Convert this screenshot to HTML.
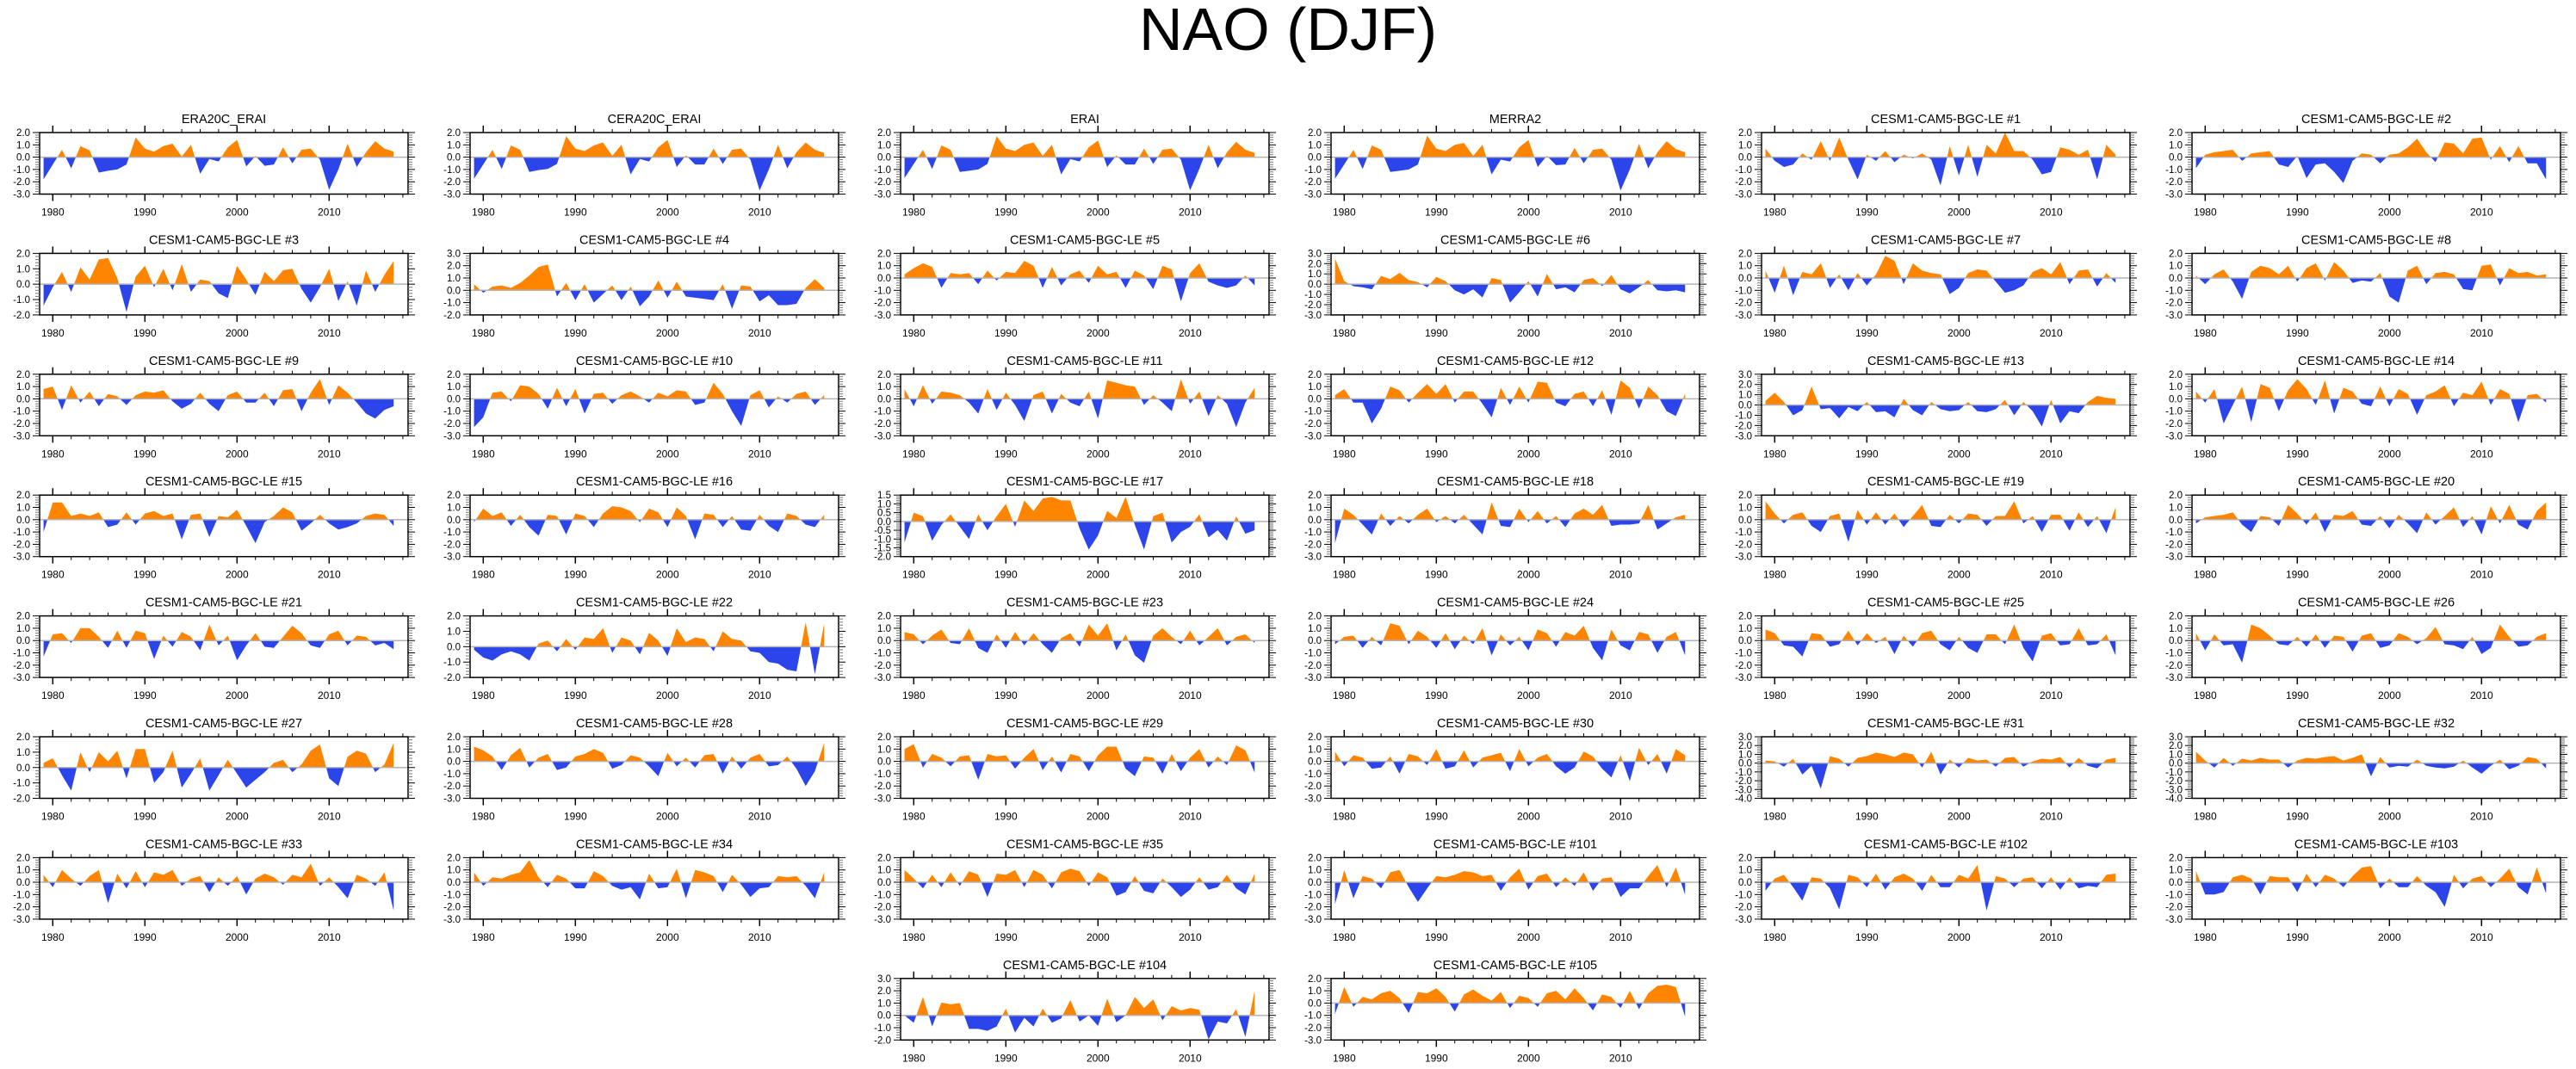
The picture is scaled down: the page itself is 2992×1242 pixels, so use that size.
<!DOCTYPE html>
<html><head><meta charset="utf-8"><title>NAO (DJF)</title>
<style>
html,body{margin:0;padding:0;background:#fff;}
svg{display:block;font-family:"Liberation Sans",sans-serif;}
</style></head>
<body>
<svg id="chart" width="2992" height="1242" viewBox="0 0 2992 1242" xmlns="http://www.w3.org/2000/svg">
<rect width="2992" height="1242" fill="#fff"/>
<text x="1496" y="58" text-anchor="middle" font-size="70" fill="#000">NAO (DJF)</text>
</svg>
<script>
const startYear = 1979;
const panelTitles = ["ERA20C_ERAI","CERA20C_ERAI","ERAI","MERRA2","CESM1-CAM5-BGC-LE #1","CESM1-CAM5-BGC-LE #2","CESM1-CAM5-BGC-LE #3","CESM1-CAM5-BGC-LE #4","CESM1-CAM5-BGC-LE #5","CESM1-CAM5-BGC-LE #6","CESM1-CAM5-BGC-LE #7","CESM1-CAM5-BGC-LE #8","CESM1-CAM5-BGC-LE #9","CESM1-CAM5-BGC-LE #10","CESM1-CAM5-BGC-LE #11","CESM1-CAM5-BGC-LE #12","CESM1-CAM5-BGC-LE #13","CESM1-CAM5-BGC-LE #14","CESM1-CAM5-BGC-LE #15","CESM1-CAM5-BGC-LE #16","CESM1-CAM5-BGC-LE #17","CESM1-CAM5-BGC-LE #18","CESM1-CAM5-BGC-LE #19","CESM1-CAM5-BGC-LE #20","CESM1-CAM5-BGC-LE #21","CESM1-CAM5-BGC-LE #22","CESM1-CAM5-BGC-LE #23","CESM1-CAM5-BGC-LE #24","CESM1-CAM5-BGC-LE #25","CESM1-CAM5-BGC-LE #26","CESM1-CAM5-BGC-LE #27","CESM1-CAM5-BGC-LE #28","CESM1-CAM5-BGC-LE #29","CESM1-CAM5-BGC-LE #30","CESM1-CAM5-BGC-LE #31","CESM1-CAM5-BGC-LE #32","CESM1-CAM5-BGC-LE #33","CESM1-CAM5-BGC-LE #34","CESM1-CAM5-BGC-LE #35","CESM1-CAM5-BGC-LE #101","CESM1-CAM5-BGC-LE #102","CESM1-CAM5-BGC-LE #103","CESM1-CAM5-BGC-LE #104","CESM1-CAM5-BGC-LE #105"];
const yMin = [-3,-3,-3,-3,-3,-3, -2,-2,-3,-3,-3,-3, -3,-3,-3,-3,-3,-3, -3,-3,-2,-3,-3,-3, -3,-2,-3,-3,-3,-3, -2,-3,-3,-3,-4,-4, -3,-3,-3,-3,-3,-3, -2,-3];
const yMax = [2,2,2,2,2,2, 2,3,2,3,2,2, 2,2,2,2,3,2, 2,2,1.5,2,2,2, 2,2,2,2,2,2, 2,2,2,2,3,3, 2,2,2,2,2,2, 3,2];
const yStep = [1,1,1,1,1,1, 1,1,1,1,1,1, 1,1,1,1,1,1, 1,1,0.5,1,1,1, 1,1,1,1,1,1, 1,1,1,1,1,1, 1,1,1,1,1,1, 1,1];
const xTickLabels = [1980,1990,2000,2010];
const s0 = [-1.8,-0.6,0.6,-0.9,0.9,0.55,-1.25,-1.1,-1.0,-0.6,1.6,0.7,0.45,0.9,1.1,0.05,1.0,-1.35,-0.15,-0.35,0.8,1.4,-0.75,0.1,-0.7,-0.6,0.8,-0.5,0.6,0.7,-0.2,-2.65,-1.0,1.1,-0.8,0.4,1.3,0.7,0.45];
const s1 = [-1.75,-0.6,0.6,-0.95,0.95,0.6,-1.2,-1.05,-0.95,-0.55,1.7,0.7,0.5,0.95,1.2,0.1,1.0,-1.4,-0.15,-0.35,0.8,1.4,-0.8,0.15,-0.6,-0.6,0.7,-0.55,0.6,0.7,-0.2,-2.7,-1.0,1.0,-0.9,0.4,1.2,0.6,0.35];
const s2 = [-1.7,-0.55,0.6,-0.95,0.95,0.6,-1.2,-1.1,-1.0,-0.55,1.7,0.7,0.5,1.0,1.2,0.1,1.0,-1.4,-0.15,-0.35,0.8,1.35,-0.8,0.15,-0.6,-0.6,0.7,-0.55,0.6,0.7,-0.2,-2.7,-0.95,1.0,-0.9,0.4,1.25,0.6,0.35];
const s3 = [-1.75,-0.6,0.6,-0.95,0.95,0.6,-1.2,-1.1,-1.0,-0.6,1.75,0.7,0.5,1.0,1.15,0.1,1.0,-1.4,-0.2,-0.35,0.8,1.4,-0.8,0.1,-0.65,-0.6,0.75,-0.5,0.6,0.7,-0.2,-2.7,-1.0,1.1,-0.9,0.4,1.3,0.65,0.4];
const m1 = [0.7,-0.3,-0.8,-0.6,0.3,-0.2,1.3,-0.3,1.6,-0.2,-1.8,0.2,-0.3,0.5,-0.4,0.2,-0.1,0.3,-0.2,-2.3,0.9,-1.5,1.0,-1.6,1.0,0.3,2.0,0.5,0.5,-0.2,-1.4,-1.2,0.8,0.6,0.2,0.6,-1.8,1.0,0.2];
const m2 = [-0.9,0.2,0.4,0.5,0.6,-0.3,0.3,0.4,0.5,-0.6,-0.8,0.1,-1.7,-0.6,-0.5,-1.2,-2.1,-0.3,0.3,0.2,-0.5,0.2,0.3,0.8,1.5,0.4,-0.4,1.2,1.1,0.3,1.5,1.6,-0.2,0.9,-0.4,0.9,-0.5,-0.5,-1.8];
const m3 = [-1.4,-0.2,0.8,-0.5,1.1,0.3,1.6,1.7,0.4,-1.8,0.5,1.2,-0.2,1.0,-0.4,1.3,-0.5,0.3,0.2,-0.6,-0.9,1.2,0.3,-0.7,0.8,0.2,0.9,1.0,-0.3,-1.2,-0.2,1.0,-1.1,0.2,-1.4,0.9,-0.5,0.6,1.5];
const m4 = [0.5,-0.2,0.3,0.4,0.2,0.6,1.2,1.9,2.1,-0.5,0.6,-0.8,0.5,-1.0,-0.3,0.4,-0.8,0.3,-1.3,-0.5,0.8,-0.6,0.7,-0.5,-0.6,-0.7,-0.8,0.5,-1.5,0.4,0.3,-0.9,-0.4,-1.2,-1.2,-1.1,0.2,0.9,0.2];
const m5 = [0.3,0.8,1.2,0.9,-0.8,0.4,0.3,0.4,-0.5,0.6,-0.2,0.5,0.4,1.4,1.0,-0.8,0.9,-0.6,0.3,0.6,-0.4,1.0,0.3,0.5,-0.8,0.6,0.2,-0.9,1.0,0.7,-1.9,0.4,1.2,-0.3,-0.6,-0.8,-0.6,0.2,-0.6];
const m6 = [2.5,0.3,-0.2,-0.3,-0.5,0.8,0.5,1.1,0.4,0.2,-0.3,0.7,0.3,-0.6,-1.0,-0.5,-1.3,0.6,0.4,-1.8,-0.8,0.3,-1.2,1.0,-0.5,-0.3,-0.8,0.4,0.6,-0.2,0.9,-0.5,-0.9,-0.3,0.4,-0.6,-0.7,-0.6,-0.8];
const m7 = [0.6,-1.2,1.0,-1.4,0.5,0.3,1.2,-0.8,0.3,-1.0,0.4,-0.6,0.3,1.8,1.4,-0.5,1.2,0.6,0.4,0.3,-1.3,-0.8,0.4,0.7,0.6,-0.3,-1.2,-1.0,-0.6,0.5,0.8,0.3,1.3,-0.5,0.6,0.7,-0.7,0.4,-0.4];
const m8 = [0.2,-0.5,0.3,0.7,-0.3,-1.7,0.5,1.0,0.8,0.3,1.0,-0.3,0.8,1.2,-0.2,1.3,0.6,-0.4,-0.2,-0.3,0.4,-1.5,-2.0,0.6,1.0,-0.5,0.4,0.5,0.3,-0.9,-1.0,1.0,1.1,-0.6,0.8,0.4,0.5,0.2,0.3];
const m9 = [0.8,1.0,-0.9,1.1,-0.3,0.6,-0.6,0.4,0.2,-0.5,0.3,0.6,0.5,0.7,-0.2,-0.8,-0.4,0.5,-0.4,-1.0,0.3,0.6,-0.3,-0.3,0.5,-0.6,0.7,0.8,-1.0,0.5,1.6,-0.5,1.1,0.5,-0.3,-1.2,-1.6,-0.9,-0.6];
const m10 = [-2.3,-1.5,0.5,0.6,-0.2,1.1,1.0,0.4,-0.8,0.9,-0.6,0.8,-1.2,0.4,0.5,-0.4,0.3,0.6,0.2,-0.3,0.5,0.2,0.7,0.6,-0.5,-0.3,1.3,0.4,-1.0,-2.2,0.3,0.7,-0.7,0.2,-0.3,0.4,0.6,-0.5,0.3];
const m11 = [0.8,-0.6,1.1,-0.4,0.6,0.5,0.3,-0.3,-1.2,0.8,-0.9,0.5,-0.5,-1.8,0.3,0.6,-1.2,0.4,-0.3,-0.6,0.6,-1.6,1.5,1.3,1.1,1.0,-0.5,0.3,-0.3,-1.0,1.6,-0.4,0.6,-1.4,0.3,-0.4,-2.3,-0.3,0.9];
const m12 = [0.3,0.8,-0.3,-0.3,-2.0,-0.8,1.0,0.7,-0.3,0.5,1.2,0.4,1.2,-0.3,0.6,0.6,-0.4,-1.5,0.9,-0.5,1.0,-0.3,1.4,1.3,-0.3,-0.6,0.4,0.6,-0.6,0.7,-1.3,1.5,0.9,-0.8,1.0,0.3,-1.0,-1.4,0.4];
const m13 = [0.4,1.2,0.3,-1.0,-0.5,1.8,-0.4,-0.3,-1.3,-0.2,-0.6,0.3,-0.7,-0.6,-1.2,0.6,-0.5,-1.0,0.3,-0.4,-0.6,-0.5,0.3,-0.6,-0.7,-0.4,0.5,-1.0,0.3,-0.6,-2.1,0.5,-1.8,-0.6,-0.8,0.3,0.9,0.7,0.6];
const m14 = [0.6,-0.3,0.8,-2.0,-0.5,1.0,-1.9,1.2,0.9,-1.0,0.7,1.6,0.8,-0.5,1.5,-1.2,0.9,0.6,-0.4,-0.6,1.0,-0.6,0.8,0.4,-1.3,0.3,0.6,1.1,-0.6,0.5,0.3,1.4,-0.5,0.8,0.4,-1.9,0.3,0.4,-0.3];
const m15 = [-1.0,1.4,1.4,0.3,0.5,0.3,0.6,-0.6,-0.4,0.6,-0.4,0.5,0.7,0.3,0.5,-1.6,0.4,0.5,-1.4,0.3,0.2,0.8,-0.5,-1.9,-0.2,0.3,1.0,0.6,-0.9,-0.3,0.4,-0.3,-0.8,-0.6,-0.3,0.3,0.5,0.4,-0.5];
const m16 = [-0.2,0.9,0.3,0.6,-0.5,0.4,-0.6,-1.3,0.4,0.3,-1.2,0.5,0.3,-0.6,0.5,1.1,1.0,0.7,-0.2,0.9,0.6,-0.6,1.0,0.3,-1.6,0.5,0.4,-0.6,0.3,-0.8,-0.9,0.4,-0.5,-1.0,0.5,0.3,-0.4,-0.6,0.4];
const m17 = [-1.2,0.5,0.3,-1.1,-0.2,0.4,-0.3,-1.0,0.4,-0.5,0.3,1.0,-0.3,1.2,0.6,1.3,1.4,1.2,1.2,-0.4,-1.6,-0.8,0.6,0.2,1.4,-0.2,-1.6,0.3,0.5,-1.2,-0.6,-0.3,0.4,-0.9,-0.5,-1.1,0.3,-0.7,-0.5];
const m18 = [-1.9,0.9,0.4,-0.4,-1.2,0.5,-0.5,0.3,-0.3,0.4,0.9,-0.2,0.3,-0.3,0.4,-0.4,-1.2,1.4,-0.5,-0.6,0.9,-0.2,0.7,-0.3,0.3,-0.6,0.5,0.9,0.4,1.2,-0.5,-0.4,-0.4,-0.3,1.2,-0.8,-0.3,0.2,0.4];
const m19 = [1.5,0.5,-0.3,0.4,0.6,-0.5,-1.0,0.3,0.5,-1.8,0.8,-0.4,0.6,-0.4,0.5,-0.6,0.3,1.2,-0.5,-0.6,0.4,-0.3,0.5,0.4,-0.5,0.3,0.3,1.5,-0.3,0.3,-1.0,0.4,0.4,-0.9,0.6,-0.6,0.3,-1.1,1.0];
const m20 = [-0.3,0.2,0.3,0.4,0.6,-0.4,-1.0,0.3,0.2,-0.5,1.2,0.5,-0.4,0.6,-1.0,0.4,0.3,0.7,-0.4,-0.5,0.3,-0.7,0.4,-0.3,-1.1,0.6,-0.4,0.3,1.0,-0.6,0.3,-1.2,1.1,-0.3,1.2,-0.4,-0.8,0.7,1.4];
const m21 = [-1.3,0.5,0.6,-0.2,1.0,1.0,0.3,-0.6,0.8,-0.6,0.8,0.6,-1.5,0.4,-0.5,0.7,0.3,-0.8,1.3,-0.4,0.4,-1.6,-0.4,0.6,-0.5,-0.6,0.3,1.2,0.6,-0.4,-0.6,0.5,0.8,-0.4,0.4,0.3,-0.4,-0.2,-0.7];
const m22 = [-0.2,-0.7,-0.9,-0.5,-0.3,-0.5,-0.9,0.2,0.4,-0.3,0.5,-0.2,0.6,0.5,1.2,-0.4,0.6,0.4,-0.5,0.9,0.4,-0.6,1.2,0.3,0.6,0.5,-0.3,1.0,0.5,0.4,-0.3,-0.4,-1.0,-1.1,-1.5,-1.6,1.6,-1.8,1.5];
const m23 = [0.7,0.5,-0.3,0.4,0.9,-0.2,-0.3,1.0,-0.6,-1.0,0.5,-0.6,0.7,-0.4,0.6,-0.3,-1.0,0.2,0.6,-0.5,1.3,0.4,1.4,-0.8,0.5,-1.2,-1.8,0.4,1.0,0.3,-0.3,0.8,-0.4,0.3,1.0,-0.4,0.3,0.5,-0.2];
const m24 = [-0.3,0.3,0.4,-0.6,0.3,-0.4,1.4,1.2,-0.3,0.8,0.3,-0.6,0.6,-0.7,0.4,-0.3,1.0,-1.2,0.5,-0.4,0.3,-0.8,0.9,0.6,-0.5,0.7,0.4,1.2,-0.6,-1.6,0.9,-0.4,-0.8,0.7,0.5,-1.0,0.3,0.7,-1.2];
const m25 = [0.9,0.6,-0.4,-0.5,-1.3,0.6,0.5,-0.5,-0.3,0.8,-0.4,0.6,-0.2,0.3,-1.1,0.4,-0.5,0.6,0.8,-0.3,-0.8,0.3,-0.6,-1.0,0.5,0.5,-0.3,1.3,-0.6,-1.7,0.4,0.6,-0.4,-0.3,1.0,-0.4,-0.3,0.5,-1.2];
const m26 = [0.6,-0.8,0.5,-0.4,-0.3,-1.8,1.3,1.0,0.4,-0.3,-0.4,0.3,-0.5,0.5,-0.6,0.4,0.3,-0.9,0.4,0.6,-0.6,-0.4,0.6,0.3,-0.3,0.2,1.1,-0.3,-0.4,-0.7,0.3,-1.1,-0.6,1.3,0.3,-0.5,-0.4,0.3,0.6];
const m27 = [0.3,0.6,-0.5,-1.5,1.0,-0.3,1.0,0.4,1.1,-0.7,1.2,1.2,-1.0,-0.3,1.1,-1.3,-0.4,0.6,-1.5,-0.5,0.5,-0.4,-1.3,-0.8,-0.3,0.3,0.5,-0.3,0.2,1.1,1.5,-0.7,-1.2,0.7,1.1,0.9,-0.3,0.2,1.6];
const m28 = [1.2,0.9,0.4,-0.7,0.5,1.1,-0.5,0.3,0.6,-0.7,-0.5,0.4,0.6,1.0,0.7,-0.6,-0.3,0.5,0.3,-0.4,-1.2,0.7,-0.4,0.3,-0.5,0.5,0.6,-1.0,0.4,-0.6,0.3,0.6,-0.4,-0.3,0.4,-0.6,-2.0,-0.8,1.5];
const m29 = [1.0,1.4,-0.5,0.6,0.3,-0.4,0.4,0.5,-1.5,0.6,0.4,0.5,-0.6,0.3,1.0,-0.7,0.4,-0.9,0.6,0.4,-0.8,0.5,1.2,1.2,-0.6,-1.2,0.4,0.3,-1.0,0.6,-0.8,0.3,1.0,-0.5,0.4,-0.3,1.3,0.9,-0.9];
const m30 = [0.8,-0.4,0.5,0.3,-0.6,-0.5,0.4,-1.0,0.6,0.4,-0.3,1.0,-0.6,-0.4,0.9,-0.5,0.3,0.5,0.7,-0.8,1.0,-0.4,0.3,0.6,-0.4,-1.0,-0.5,0.8,0.4,-0.6,-1.3,0.5,-1.6,1.1,-0.3,0.6,-1.0,1.0,0.5];
const m31 = [0.3,0.2,-0.4,0.5,-1.3,-0.3,-2.9,0.8,0.5,-0.4,0.6,0.8,1.2,1.0,0.7,1.2,1.0,-0.5,1.3,-1.3,0.4,-0.5,0.6,0.3,0.4,-0.4,0.6,0.7,-0.4,0.2,0.5,0.4,0.7,-0.5,0.6,-0.3,-0.6,0.4,0.6];
const m32 = [1.3,0.3,-0.5,0.6,-0.3,0.5,0.3,0.6,0.4,0.4,-0.5,0.3,0.6,0.5,0.7,0.8,0.3,0.6,1.0,-1.5,0.7,-0.5,-0.3,-0.4,0.4,-0.3,-0.5,-0.6,-0.4,0.3,-0.5,-1.2,-0.3,0.4,-0.7,-0.3,0.7,0.5,-0.6];
const m33 = [0.6,-0.4,1.0,0.3,-0.3,0.5,1.0,-1.7,0.7,-0.5,0.9,-0.4,0.8,0.6,1.0,-0.3,0.3,0.5,-0.8,0.4,-0.3,0.5,-1.0,0.3,0.7,0.4,-0.2,0.6,0.4,1.5,-0.3,0.4,-0.4,-1.3,0.6,0.3,-0.3,0.8,-2.3];
const m34 = [0.8,-0.3,0.4,0.3,0.6,0.8,1.8,0.4,-0.4,0.6,0.3,-0.5,-0.5,0.9,0.5,-0.3,-0.6,-0.4,-1.4,0.7,-0.5,-0.4,1.1,-1.3,1.0,0.8,0.5,-0.8,0.6,-0.2,-1.2,-0.5,-0.4,0.5,0.4,0.5,-0.3,-1.3,0.8];
const m35 = [1.0,0.3,-0.5,0.6,-0.4,0.8,-0.3,0.9,0.6,-1.2,0.7,0.6,1.0,-0.4,1.0,0.6,-0.5,0.8,1.1,0.9,-0.3,0.8,0.4,-1.1,-0.8,0.5,-0.7,-0.9,0.3,-0.4,-1.2,-0.6,0.4,-0.6,-0.4,0.6,-0.5,-1.0,0.7];
const m101 = [-1.8,1.0,-1.3,0.5,0.3,-0.5,0.8,1.0,-0.4,-1.6,-0.5,0.5,0.4,0.6,0.9,0.8,0.5,0.6,-0.7,0.4,1.1,-0.6,0.5,0.7,-0.4,0.4,-0.3,0.8,-0.7,0.3,0.4,-1.2,-0.5,-0.5,0.5,1.4,-0.4,1.2,-1.0];
const m102 = [-0.7,0.3,0.6,-0.4,-1.5,0.4,0.3,-0.5,-2.2,0.6,0.4,-0.4,0.7,-0.6,0.4,0.7,0.3,-0.7,0.6,-0.4,-0.4,0.6,0.3,1.4,-2.3,0.5,0.3,-0.4,0.3,0.4,-0.5,0.4,-0.6,0.4,-0.5,-0.3,-0.4,0.6,0.7];
const m103 = [0.9,-1.0,-1.0,-0.8,0.4,0.6,0.3,-1.0,0.5,0.4,0.4,-0.8,0.7,-0.4,0.6,0.3,-0.4,0.5,1.2,1.3,-0.5,0.3,-0.4,-0.4,0.5,-0.3,-0.8,-2.0,0.6,-0.5,0.3,0.5,-0.4,0.3,1.1,-0.4,-1.0,1.2,-0.9];
const m104 = [0.0,-0.6,1.5,-0.9,1.05,0.9,1.0,-1.1,-1.1,-1.25,-0.9,0.55,-1.4,-0.2,-0.9,0.55,-0.6,-0.25,1.25,-0.5,0.0,-0.85,1.35,-0.55,0.0,1.5,0.6,1.3,-0.4,0.75,0.4,0.6,0.45,-1.95,-0.5,-0.65,0.5,-1.75,2.0];
const m105 = [-0.9,1.3,-0.3,0.5,0.3,0.8,1.0,0.4,-0.8,0.9,0.8,1.2,0.5,-0.7,0.7,1.1,0.6,0.2,0.9,-0.4,0.6,0.4,-0.3,0.8,1.0,0.3,1.2,0.4,-0.6,0.7,0.5,-0.4,1.0,-0.5,0.8,1.4,1.5,1.3,-1.1];
const series = [s0,s1,s2,s3,m1,m2,m3,m4,m5,m6,m7,m8,m9,m10,m11,m12,m13,m14,m15,m16,m17,m18,m19,m20,m21,m22,m23,m24,m25,m26,m27,m28,m29,m30,m31,m32,m33,m34,m35,m101,m102,m103,m104,m105];

const NS = "http://www.w3.org/2000/svg";
const svg = document.getElementById("chart");
const X0 = 46, PITCHX = 500, W = 428, Y0 = 154, PITCHY = 140.4, H = 71.5;
const XMIN = 1978.57, XMAX = 2018.57;
const ORANGE = "#ff8500", BLUE = "#2b45ea";
function mk(tag, attrs, parent) {
  const e = document.createElementNS(NS, tag);
  for (const k in attrs) e.setAttribute(k, attrs[k]);
  parent.appendChild(e);
  return e;
}
function fmt(v, step) { return step < 1 ? v.toFixed(1) : v.toFixed(1); }

series.forEach((vals, p) => {
  let row, col;
  if (p < 42) { row = Math.floor(p / 6); col = p % 6; } else { row = 7; col = p - 42 + 2; }
  const left = X0 + col * PITCHX, top = Y0 + row * PITCHY, right = left + W, bottom = top + H;
  const lo = yMin[p], hi = yMax[p], st = yStep[p];
  const sx = yr => left + (yr - XMIN) / (XMAX - XMIN) * W;
  const sy = v => bottom - (v - lo) / (hi - lo) * H;
  const g = mk("g", {}, svg);
  
  
  const t = mk("text", {x: (left + right) / 2, y: top - 11, "text-anchor": "middle", "font-size": 14.5, fill: "#000"}, g);
  t.textContent = panelTitles[p];
  
  
  const cid = "clip" + p;
  const defs = mk("defs", {}, g);
  const z = sy(0);
  const cpPos = mk("clipPath", {id: cid + "p"}, defs);
  mk("rect", {x: left, y: top, width: W, height: z - top}, cpPos);
  const cpNeg = mk("clipPath", {id: cid + "n"}, defs);
  mk("rect", {x: left, y: z, width: W, height: bottom - z}, cpNeg);
  let d = "M" + sx(startYear).toFixed(2) + "," + z.toFixed(2);
  vals.forEach((v, i) => { d += " L" + sx(startYear + i).toFixed(2) + "," + sy(v).toFixed(2); });
  d += " L" + sx(startYear + vals.length - 1).toFixed(2) + "," + z.toFixed(2) + " Z";
  const ap = mk("path", {d: d, fill: ORANGE, "clip-path": "url(#" + cid + "p)"}, g);
  
  
  const an = mk("path", {d: d, fill: BLUE, "clip-path": "url(#" + cid + "n)"}, g);
  
  
  const zl = mk("line", {x1: left, x2: right, y1: z, y2: z, stroke: "#b4b4b4", "stroke-width": 1.5}, g);
  
  
  const fr = mk("rect", {x: left, y: top, width: W, height: H, fill: "none", stroke: "#000", "stroke-width": 1.5}, g);
  
  
  // x ticks
  for (let yr = 1980 - 2; yr <= 2018; yr += 2) {
    const x = sx(yr); if (x < left || x > right) continue;
    const major = yr % 10 === 0, L = major ? 8 : 4;
    mk("line", {x1: x, x2: x, y1: top, y2: top - L, stroke: "#000", "stroke-width": major ? 1.5 : 1}, g);
    mk("line", {x1: x, x2: x, y1: bottom, y2: bottom + L, stroke: "#000", "stroke-width": major ? 1.5 : 1}, g);
  }
  xTickLabels.forEach(yr => {
    const tl = mk("text", {x: sx(yr), y: bottom + 25, "text-anchor": "middle", "font-size": 12, fill: "#000"}, g);
    tl.textContent = String(yr);
    
    
  });
  // y ticks
  const minorStep = st / 5;
  const n = Math.round((hi - lo) / minorStep);
  for (let k = 0; k <= n; k++) {
    const v = lo + k * minorStep, y = sy(v);
    const major = k % 5 === 0, L = major ? 8 : 5;
    const c = major ? "#000" : "#777";
    mk("line", {x1: left, x2: left - L, y1: y, y2: y, stroke: c, "stroke-width": 1}, g);
    mk("line", {x1: right, x2: right + L, y1: y, y2: y, stroke: c, "stroke-width": 1}, g);
    if (major) {
      const yl = mk("text", {x: left - 11, y: y + 4, "text-anchor": "end", "font-size": 11.5, fill: "#000"}, g);
      yl.textContent = fmt(v, st);
      
      
    }
  }
});
</script>
</body></html>
